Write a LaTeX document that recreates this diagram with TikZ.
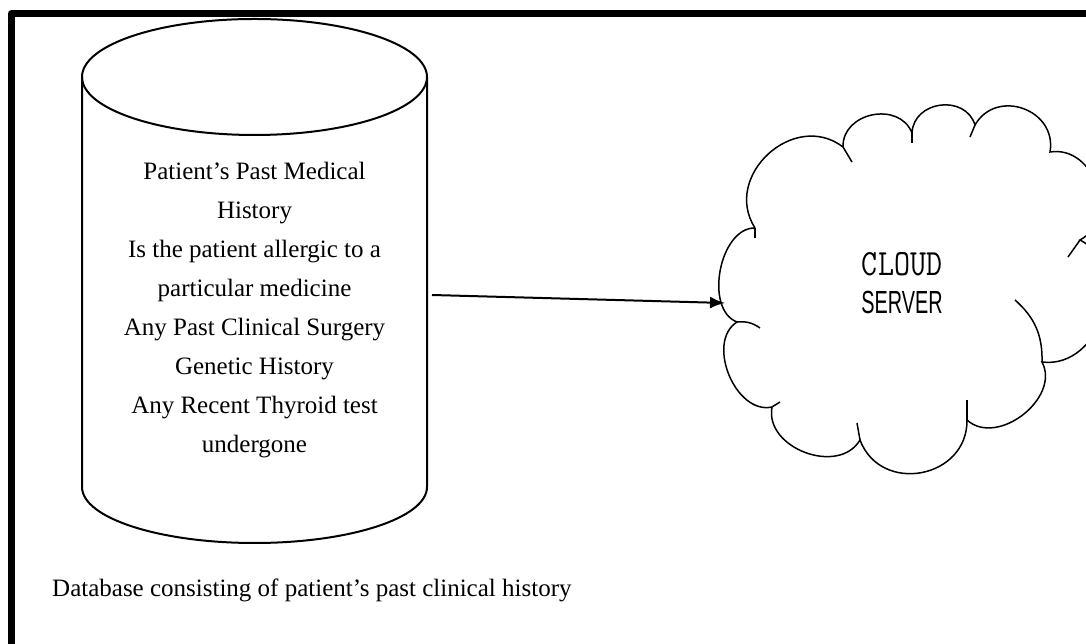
\documentclass[tikz,border=0pt]{standalone}
\usepackage{fontspec}
\setmainfont{Liberation Serif}
\newfontfamily\cloudsans[FakeStretch=0.62]{Liberation Sans}
\usetikzlibrary{arrows.meta}
\tikzset{
  frameline/.style={line width=7pt, line join=round},
  cylline/.style={line width=2pt},
  cloudline/.style={line width=1.5pt},
  arrowline/.style={line width=2pt, -{Latex[length=15pt,width=12pt]}},
  dbtext/.style={inner sep=0pt, align=center, font=\fontsize{25}{39}\selectfont},
  captext/.style={inner sep=0pt, font=\fontsize{25}{30}\selectfont},
  cloudtext/.style={inner sep=0pt, align=center, font=\fontsize{32}{38}\selectfont},
}
\begin{document}
\begin{tikzpicture}[x=1pt,y=1pt]
\useasboundingbox (0,0) rectangle (1086,644);
\clip (0,0) rectangle (1086,644);
\fill[white] (0,0) rectangle (1086,644);
% frame
\draw[frameline] (11.5,-10) -- (11.5,630.5) -- (1100,630.5);
% cylinder
\draw[cylline] (254.5,567) ellipse [x radius=172.5, y radius=58];
\draw[cylline] (82,567) -- (82,157) arc [start angle=180, end angle=360, x radius=172.5, y radius=56] -- (427,567);
\node[dbtext, anchor=north] (db) at (254.5,482) {Patient’s Past Medical\\History\\Is the patient allergic to a\\particular medicine\\Any Past Clinical Surgery\\Genetic History\\Any Recent Thyroid test\\undergone};
\node[captext, anchor=base west] (cap) at (52,47) {Database consisting of patient’s past clinical history};
% cloud
\coordinate (J1) at (755,416);
\coordinate (J2) at (843,497);
\coordinate (J3) at (912,511);
\coordinate (J4) at (975,519);
\coordinate (J5) at (1050,492);
\coordinate (J6) at (1080,404);
\coordinate (J7) at (1042,282);
\coordinate (J8) at (967,224);
\coordinate (J9) at (860,204);
\coordinate (J10) at (772,237);
\coordinate (J11) at (737,322);
\draw[cloudline] (J1) to[bend left=80, looseness=1.32] (J2)
  to[bend left=80, looseness=1.26] (J3)
  to[bend left=80, looseness=1.31] (J4)
  to[bend left=80, looseness=1.38] (J5)
  to[bend left=80, looseness=1.25] (J6)
  to[bend left=80, looseness=1.2] (J7)
  to[bend left=80, looseness=1.1] (J8)
  to[bend left=80, looseness=1.38] (J9)
  to[bend left=80, looseness=1.14] (J10)
  to[bend left=80, looseness=1.04] (J11)
  to[bend left=80, looseness=0.95] (J1);
\coordinate (T1) at (755,406);
\coordinate (T2) at (852,482);
\coordinate (T3) at (912,501);
\coordinate (T4) at (970,507);
\coordinate (T6) at (1068,387);
\coordinate (T7) at (1015,344);
\coordinate (T8) at (967,244);
\coordinate (T9) at (857,221);
\coordinate (T10) at (780,242);
\coordinate (T11) at (760,316);
\draw[cloudline] (J1) -- (T1);
\draw[cloudline] (J2) -- (T2);
\draw[cloudline] (J3) -- (T3);
\draw[cloudline] (J4) -- (T4);
\draw[cloudline] (J6) -- (T6);
\draw[cloudline] (J7) to[bend right=25] (T7);
\draw[cloudline] (J8) -- (T8);
\draw[cloudline] (J9) -- (T9);
\draw[cloudline] (J10) -- (T10);
\draw[cloudline] (J11) to[bend left=20] (T11);
\node[cloudtext, anchor=north] (cloud) at (902,392) {\scalebox{0.84}[1]{\ttfamily\fontsize{37}{38}\selectfont CLOUD}\\{\cloudsans\fontsize{32}{38}\selectfont SERVER}};
% arrow
\coordinate (dbE) at (432,349);
\coordinate (cloudW) at (725,341);
\draw[arrowline] (dbE) -- (cloudW);
\end{tikzpicture}
\end{document}
